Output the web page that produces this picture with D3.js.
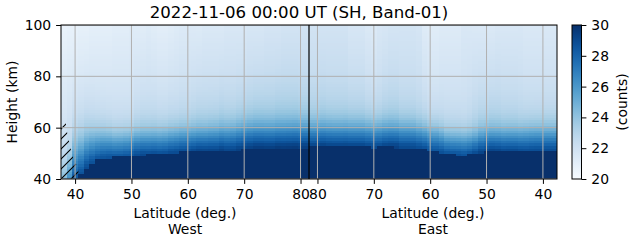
<!DOCTYPE html>
<html><head><meta charset="utf-8">
<script src="https://cdn.jsdelivr.net/npm/d3@7"></script>
<style>
body{margin:0;background:#fff}
svg{display:block}
text{font-family:"DejaVu Sans",sans-serif;fill:#000}
</style>
</head><body>
<svg id="c" width="631" height="243"></svg>
<script>
// ---------------- data ----------------
const titleText = "2022-11-06 00:00 UT (SH, Band-01)";
const rowBottoms = d3.range(40, 100);          // 1-km rows, 40..99 km
const westLat = d3.range(38, 82);              // column centres, west side 38..81
const eastLat = d3.range(81, 37, -1);          // column centres, east side 81..38
const xTicksWest = [40, 50, 60, 70, 80];
const xTicksEast = [80, 70, 60, 50, 40];
const yTicks = [40, 60, 80, 100];
const cbarTicks = [20, 22, 24, 26, 28, 30];

// top of the saturated (>=30 counts) layer, km, per column
const westEdge = [26, 32, 39.5, 42, 44.5, 46.3, 47.6, 48.2, 48.5, 48.6, 48.7, 49, 49.4, 49.5,
  49.5, 49.6, 49.6, 49.6, 49.8, 50.1, 50.5, 50.7, 50.8, 50.8, 50.8, 50.9, 51, 51, 51.1, 51.2,
  51.3, 51.5, 51.8, 52, 52, 52, 52, 52, 52, 52.1, 52.2, 52.3, 52.4, 52.4];
const eastEdge = [52.6, 52.6, 52.6, 52.7, 52.6, 52.6, 52.7, 52.6, 52.6, 52.6, 52.6, 52.5, 52.6,
  52.6, 52.6, 52.5, 52.5, 52.5, 52.4, 52.2, 51.8, 51.4, 51.2, 50.5, 49.8, 49.6, 49.5, 49.5,
  49.6, 49.7, 50.2, 50.6, 50.7, 50.7, 50.7, 50.8, 50.8, 50.9, 51, 51.2, 51.3, 51.3, 51.3, 51.3];
// background counts at 70 km and 95 km, per column
const westV70 = [21.5, 21.6, 21.7, 21.8, 21.9, 21.9, 21.9, 21.9, 21.9, 21.9, 21.9, 21.9, 21.9,
  22.1, 22.2, 22.2, 22.2, 22.1, 22.1, 22.2, 22.2, 22.3, 22.3, 22.4, 22.5, 22.5, 22.5, 22.5, 22.6,
  22.5, 22.5, 22.6, 22.6, 22.7, 22.8, 22.8, 22.8, 22.8, 22.9, 22.9, 22.9, 22.9, 22.8, 22.8];
const eastV70 = [22.7, 22.7, 22.8, 22.7, 22.7, 22.7, 22.7, 22.6, 22.6, 22.6, 22.4, 22.3, 22.4,
  22.6, 22.7, 22.7, 22.5, 22.5, 22.5, 22.4, 22.2, 22.0, 22.0, 22.1, 22.1, 22.1, 22.1, 22.1, 22.2,
  22.4, 22.5, 22.5, 22.6, 22.6, 22.5, 22.5, 22.5, 22.4, 22.3, 22.3, 22.3, 22.3, 22.3, 22.3];
const westV95 = [20.8, 20.9, 20.9, 21.0, 21.0, 21.1, 21.1, 21.1, 21.1, 21.2, 21.2, 21.2, 21.3,
  21.3, 21.3, 21.4, 21.3, 21.2, 21.2, 21.3, 21.4, 21.5, 21.5, 21.5, 21.5, 21.6, 21.6, 21.6, 21.6,
  21.7, 21.7, 21.7, 21.7, 21.8, 21.8, 21.8, 21.9, 21.9, 21.9, 22.0, 22.0, 22.0, 22.0, 22.0];
const eastV95 = [22.0, 22.0, 22.0, 22.0, 22.0, 22.0, 22.0, 21.8, 21.8, 21.8, 21.6, 21.5, 21.7,
  21.8, 21.9, 21.9, 21.9, 21.9, 21.9, 21.8, 21.4, 21.3, 21.3, 21.4, 21.4, 21.4, 21.4, 21.6, 21.6,
  21.6, 21.6, 21.6, 21.6, 21.7, 21.7, 21.7, 21.7, 21.7, 21.6, 21.6, 21.6, 21.6, 21.6, 21.6];
// vertical extent of the transition layer (km), per column
const westSpread = [14, 14, 14, 13, 12, 11, 10, 9.5, 9, 8.5, 8.5, 8.5, 8.5, 8.5, 8.5, 8.5, 8.5,
  8.5, 8.5, 8.5, 8.5, 8.5, 8.5, 8.5, 8.5, 8.5, 8.7, 8.8, 8.9, 9, 9.1, 9.2, 9.3, 9.3, 9.3, 9.3,
  9.3, 9.3, 9.3, 9.3, 9.3, 9.3, 9.3, 9.3];
const eastSpread = [8.8, 8.8, 8.8, 8.8, 8.8, 8.8, 8.8, 8.8, 8.8, 8.8, 8.8, 8.8, 8.8, 8.8, 8.8,
  8.8, 8.8, 8.8, 8.8, 8.5, 8.5, 8.5, 8.5, 8.2, 7.8, 7.8, 7.8, 7.8, 7.8, 7.8, 8.2, 8.2, 8.2, 8.2,
  8.2, 8.2, 8.2, 8.2, 8.5, 8.5, 8.5, 8.5, 8.5, 8.5];
// measured excess above background vs height above the saturated layer (reference column)
const profileOffsetKm = [0, 1, 2, 3, 4, 5, 6, 7, 8, 9, 10, 12, 14, 16, 18, 20, 25, 30];
const profileExcess = [6.1, 5.8, 5.3, 4.8, 4.4, 3.9, 3.4, 2.9, 2.4, 2.0, 1.6, 1.05, 0.7, 0.45,
  0.3, 0.2, 0.05, 0];
// hatched region (west side, lat, km)
const hatchLat = [37.5, 37.5, 38.3, 38.6, 39.0, 39.4, 39.8, 40.5, 40.7];
const hatchKm = [40, 62.8, 62.5, 58, 54, 50, 47, 45, 40];

// ---------------- layout ----------------
const L = 61, R = 557, T = 25, B = 179, MID = 309;
const FS = 13.9;
const svg = d3.select("#c");

const xW = d3.scaleLinear().domain([37.5, 81.5]).range([L, MID]);
const xE = d3.scaleLinear().domain([81.5, 37.5]).range([MID, R]);
const y = d3.scaleLinear().domain([40, 100]).range([B, T]);
const color = d3.scaleSequential(d3.interpolateBlues).domain([20, 30]).clamp(true);
const profile = d3.scaleLinear().domain(profileOffsetKm).range(profileExcess).clamp(true);
const SREF = 8.5;

function value(h, e, v70, v95, s) {
  if (h < e) return 30.5;
  const bg = hh => v95 + (v70 - v95) * (95 - hh) / 25;
  return bg(h) + profile((h - e) * SREF / s);
}

const cells = [];
westLat.forEach((lat, i) => {
  rowBottoms.forEach(hb => {
    cells.push({x0: xW(lat - 0.5), x1: xW(lat + 0.5), h: hb,
      v: value(hb + 0.5, westEdge[i], westV70[i], westV95[i], westSpread[i])});
  });
});
eastLat.forEach((lat, i) => {
  rowBottoms.forEach(hb => {
    cells.push({x0: xE(lat + 0.5), x1: xE(lat - 0.5), h: hb,
      v: value(hb + 0.5, eastEdge[i], eastV70[i], eastV95[i], eastSpread[i])});
  });
});

const defs = svg.append("defs");
defs.append("clipPath").attr("id", "plotclip").append("rect")
  .attr("x", L).attr("y", T).attr("width", R - L).attr("height", B - T);
const HS = 10;
const pat = defs.append("pattern").attr("id", "hatch").attr("patternUnits", "userSpaceOnUse")
  .attr("width", HS).attr("height", HS);
pat.append("path").attr("d", `M-1,1 l2,-2 M0,${HS} L${HS},0 M${HS - 1},${HS + 1} l2,-2`)
  .attr("stroke", "#000").attr("stroke-width", 1.1);

const g = svg.append("g").attr("clip-path", "url(#plotclip)");
g.selectAll("rect.cell").data(cells).join("rect").attr("class", "cell")
  .attr("x", d => d.x0).attr("width", d => d.x1 - d.x0 + 0.4)
  .attr("y", d => y(d.h + 1)).attr("height", d => y(d.h) - y(d.h + 1) + 0.4)
  .attr("fill", d => color(d.v)).attr("shape-rendering", "crispEdges");

// hatch
g.append("path")
  .attr("d", d3.line()(hatchLat.map((la, i) => [xW(la), y(hatchKm[i])])) + "Z")
  .attr("fill", "url(#hatch)").attr("stroke", "none");

// grid
const gridX = xTicksWest.map(v => xW(v)).concat(xTicksEast.map(v => xE(v)));
g.selectAll("line.gx").data(gridX).join("line")
  .attr("x1", d => d).attr("x2", d => d).attr("y1", T).attr("y2", B)
  .attr("stroke", "#b0b0b0").attr("stroke-width", 1);
g.selectAll("line.gy").data(yTicks).join("line")
  .attr("x1", L).attr("x2", R).attr("y1", d => y(d)).attr("y2", d => y(d))
  .attr("stroke", "#b0b0b0").attr("stroke-width", 1);
// centre line
svg.append("line").attr("x1", xW(81.5)).attr("x2", xW(81.5)).attr("y1", T).attr("y2", B)
  .attr("stroke", "#000").attr("stroke-width", 1.2);

// spines
svg.append("rect").attr("x", L).attr("y", T).attr("width", R - L).attr("height", B - T)
  .attr("fill", "none").attr("stroke", "#000").attr("stroke-width", 1);

function styleAxis(sel) {
  sel.select(".domain").remove();
  sel.selectAll("text").attr("font-size", FS).attr("font-family", "DejaVu Sans");
  sel.selectAll("line").attr("stroke", "#000").attr("stroke-width", 1);
}
svg.append("g").attr("transform", `translate(0,${B})`)
  .call(d3.axisBottom(xW).tickValues(xTicksWest).tickSize(4.9).tickPadding(4.9).tickFormat(d3.format("d")))
  .call(styleAxis);
svg.append("g").attr("transform", `translate(0,${B})`)
  .call(d3.axisBottom(xE).tickValues(xTicksEast).tickSize(4.9).tickPadding(4.9).tickFormat(d3.format("d")))
  .call(styleAxis);
svg.append("g").attr("transform", `translate(${L},0)`)
  .call(d3.axisLeft(y).tickValues(yTicks).tickSize(4.9).tickPadding(4.9).tickFormat(d3.format("d")))
  .call(styleAxis);

// labels
svg.append("text").attr("x", 299).attr("y", 18).attr("text-anchor", "middle")
  .attr("font-size", 16.6).text(titleText);
[["West", (L + MID) / 2], ["East", (MID + R) / 2]].forEach(([side, cx]) => {
  svg.append("text").attr("x", cx).attr("y", 218.3).attr("text-anchor", "middle")
    .attr("font-size", FS).text("Latitude (deg.)");
  svg.append("text").attr("x", cx).attr("y", 234.3).attr("text-anchor", "middle")
    .attr("font-size", FS).text(side);
});
svg.append("text").attr("transform", `translate(16.5,${(T + B) / 2}) rotate(-90)`)
  .attr("text-anchor", "middle").attr("font-size", FS).text("Height (km)");

// colorbar
const CB0 = 572, CB1 = 581.5;
const cb = d3.scaleLinear().domain([20, 30]).range([B, T]);
const grad = defs.append("linearGradient").attr("id", "cbgrad")
  .attr("x1", 0).attr("y1", 1).attr("x2", 0).attr("y2", 0);
d3.range(0, 1.0001, 0.05).forEach(t => {
  grad.append("stop").attr("offset", t).attr("stop-color", d3.interpolateBlues(t));
});
svg.append("rect").attr("x", CB0).attr("y", T).attr("width", CB1 - CB0).attr("height", B - T)
  .attr("fill", "url(#cbgrad)").attr("stroke", "#000").attr("stroke-width", 1);
svg.append("g").attr("transform", `translate(${CB1},0)`)
  .call(d3.axisRight(cb).tickValues(cbarTicks).tickSize(4.9).tickPadding(4.9).tickFormat(d3.format("d")))
  .call(styleAxis);
svg.append("text").attr("transform", `translate(627,${(T + B) / 2}) rotate(-90)`)
  .attr("text-anchor", "middle").attr("font-size", FS).text("(counts)");
</script>
</body></html>
